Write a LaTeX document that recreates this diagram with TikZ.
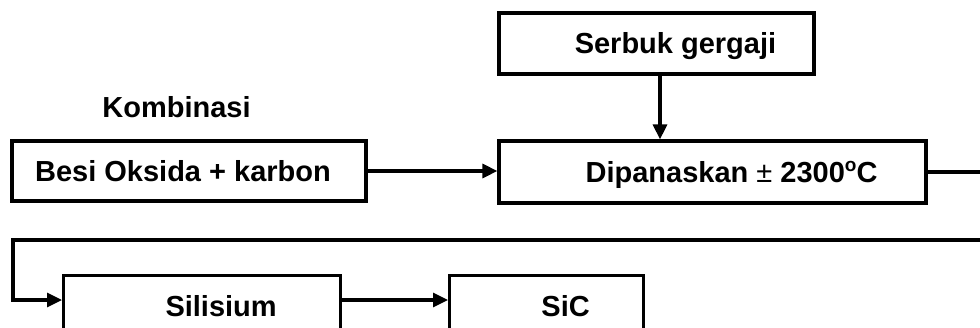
\documentclass[tikz,border=0pt]{standalone}
\usepackage{fontspec}
\setmainfont{Liberation Sans}
\usetikzlibrary{arrows.meta}
\begin{document}
\begin{tikzpicture}[x=1pt,y=-1pt,
  box/.style={draw=black, line width=3.2pt, inner sep=0pt, text height=20.8pt, text depth=0pt,
    font=\fontsize{29}{34}\bfseries\selectfont},
  conn/.style={line width=3.2pt},
  arr/.style={conn, -{Triangle[length=15pt,width=14pt]}}]
\useasboundingbox (0,0) rectangle (980,327);
\clip (0,0) rectangle (980,327);
\fill[white] (0,0) rectangle (980,327);
\node[box, minimum width=354pt, minimum height=60pt] (besi) at (189,171) {Besi Oksida + karbon\hspace*{12pt}};
\node[font=\fontsize{29}{34}\bfseries\selectfont, inner sep=0pt, text height=20.8pt, text depth=0pt] (komb) at (176.5,107.5) {Kombinasi};
\node[box, minimum width=315pt, minimum height=61pt] (serbuk) at (656.5,43.5) {\hspace*{38pt}Serbuk gergaji};
\node[box, minimum width=427pt, minimum height=62pt] (dip) at (712.5,172) {\hspace*{38pt}Dipanaskan {\mdseries\textpm} 2300\raisebox{11pt}{\fontsize{19}{19}\selectfont o}C};
\node[box, minimum width=277pt, minimum height=61pt, anchor=north west] (sil) at (62,274) {\hspace*{38pt}Silisium};
\node[box, minimum width=194pt, minimum height=61pt, anchor=north west] (sic) at (448,274) {\hspace*{38pt}SiC};
\coordinate (re) at (995,172);
\coordinate (rb) at (995,240);
\coordinate (lb) at (13,240);
\coordinate (ah) at (0,300);
\draw[arr] (besi.east) -- (besi.east -| dip.west);
\draw[arr] ([xshift=3.5pt]serbuk.south) -- ([xshift=3.5pt]serbuk.south |- dip.north);
\draw[conn] (dip.east) -- (re) -- (rb);
\draw[arr] (rb) -- (lb) |- (sil.west |- ah);
\draw[arr] (sil.east |- ah) -- (sic.west |- ah);
\end{tikzpicture}
\end{document}
